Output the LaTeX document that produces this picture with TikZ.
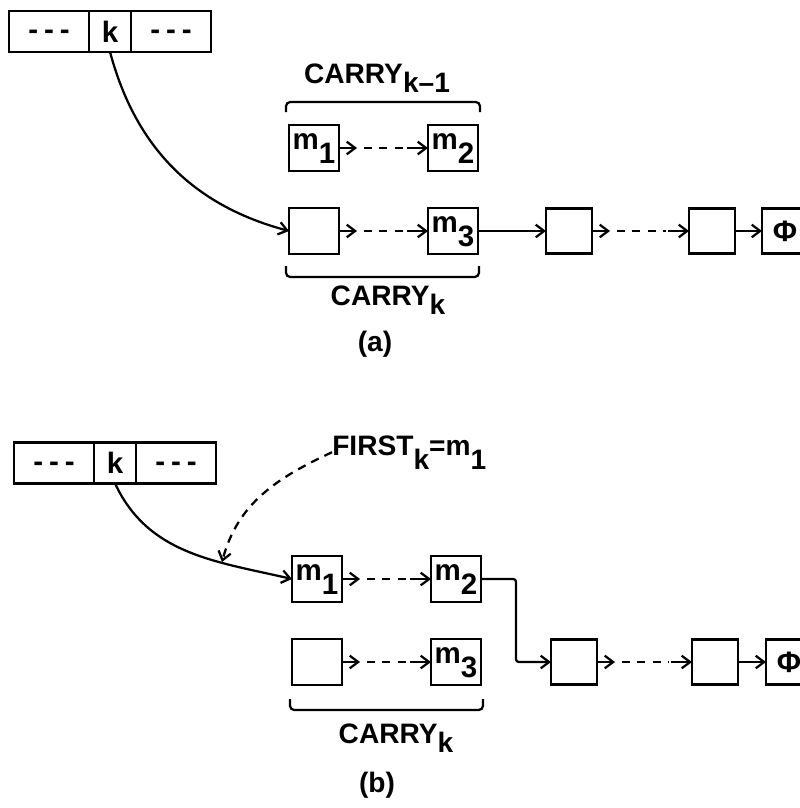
\documentclass[tikz,border=0pt]{standalone}
\usepackage{fontspec}
\setmainfont{Liberation Sans}
\usetikzlibrary{positioning}
\usetikzlibrary{arrows.meta}
\usetikzlibrary{calc}
\newcommand{\lowix}[2][0.42em]{\raisebox{-#1}{#2}}
\newcommand{\dashes}{\raisebox{-0.28em}[0pt][0pt]{-\hspace{0.2em}-\hspace{0.2em}-}}
\tikzset{
    boxn/.style = {rectangle, line width=1.9pt, draw=black, align=center, minimum width=1.25cm, minimum height=1.15cm, inner sep=0pt, outer sep=0pt, text height=8pt, text depth=5.2pt, font=\fontsize{21}{24}\selectfont\bfseries},
    boxc/.style = {boxn, minimum width=1.15cm, minimum height=1.12cm},
    boxp/.style = {boxc, text height=14.3pt, text depth=0pt},
    celln/.style = {boxn, minimum width=2cm, minimum height=1.02cm, text height=, text depth=},
    cellk/.style = {celln, minimum width=1.05cm},
    labn/.style = {inner sep=0pt, anchor=base},
    edgen/.style = {-{Straight Barb[length=6pt,width=9pt]}, line width=1.6pt, black},
    edged/.style = {-, line width=1.6pt, black, dash pattern=on 5.5pt off 5.5pt},
    edgef/.style = {edgen, dash pattern=on 6pt off 4.5pt},
    bracen/.style = {-, line width=1.6pt, black, rounded corners=3pt}
}

\begin{document}
\begin{tikzpicture}[x=0.025cm, y=0.025cm, font=\fontsize{20}{23}\selectfont\bfseries]
\fill[white] (0, 0) rectangle (800, -808);
\useasboundingbox (0, 0) rectangle (800, -808);
\clip (0, 0) rectangle (800, -808);
% (a)
\node[celln] at (49, -31.5) (a-l) {\dashes};
\node[cellk, right=0pt of a-l] (a-k) {k};
\node[celln, right=0pt of a-k] (a-r) {\dashes};
\node[boxn] at (314, -148) (a-m1) {m\lowix[0.45em]{1}};
\node[boxn] at (453, -148) (a-m2) {m\lowix[0.45em]{2}};
\node[boxn] at (314, -231) (a-e) {};
\node[boxn] at (453, -231) (a-m3) {m\lowix[0.45em]{3}};
\node[boxc] at (569, -231) (a-c1) {};
\node[boxc] at (712, -231) (a-c2) {};
\node[boxp] at (785, -231) (a-phi) {Φ};
\node[labn] at (377, -83) (a-top) {CARRY\lowix[0.32em]{k–1}};
\node[labn] at (388, -305) (a-bot) {CARRY\lowix[0.35em]{k}};
\node[labn] at (375, -351) (a-cap) {(a)};
% (b)
\node[celln] at (54, -463) (b-l) {\dashes};
\node[cellk, right=0pt of b-l] (b-k) {k};
\node[celln, right=0pt of b-k] (b-r) {\dashes};
\node[boxn] at (317, -579) (b-m1) {m\lowix[0.45em]{1}};
\node[boxn] at (456, -579) (b-m2) {m\lowix[0.45em]{2}};
\node[boxn] at (317, -662) (b-e) {};
\node[boxn] at (456, -662) (b-m3) {m\lowix[0.45em]{3}};
\node[boxc] at (574, -662) (b-c1) {};
\node[boxc] at (715, -662) (b-c2) {};
\node[boxp] at (789, -662) (b-phi) {Φ};
\node[labn, anchor=base west] at (332, -455) (b-first) {FIRST\lowix[0.5em]{k}=m\lowix[0.5em]{1}};
\node[labn] at (396, -743) (b-bot) {CARRY\lowix[0.35em]{k}};
\node[labn] at (377, -792) (b-cap) {(b)};
\coordinate (b-hit) at (222, -562);
%
\draw[bracen] (286, -112) -- (286, -102) -- (480, -102) -- (480, -112);
\draw[bracen] (286, -266) -- (286, -277) -- (479, -277) -- (479, -266);
\draw[bracen] (290, -699) -- (290, -710) -- (483, -710) -- (483, -699);
%
\foreach \s/\t in {a-m1/a-m2, a-e/a-m3, a-c1/a-c2, b-m1/b-m2, b-e/b-m3, b-c1/b-c2}{
    \draw[edgen] (\s.east) -- ++(18, 0) coordinate (p);
    \draw[edgen] ($(\t.west)+(-21, 0)$) coordinate (q) -- (\t.west);
    \draw[edged] ($(p)+(7, 0)$) -- ($(q)+(-2, 0)$);
}
\draw[edgen] (a-k.south) to[out=-75, in=165] (a-e.west);
\draw[edgen] (a-m3) -- (a-c1);
\draw[edgen] (a-c2) -- (a-phi);
\draw[edgen] (b-k.south) to[out=-65, in=167] (b-m1.west);
\draw[edgef] (b-first.west) to[out=205, in=75] (b-hit);
\draw[edgen, rounded corners=2pt] (b-m2.east) -- ++(35, 0) |- (b-c1.west);
\draw[edgen] (b-c2) -- (b-phi);

\end{tikzpicture}
\end{document}
